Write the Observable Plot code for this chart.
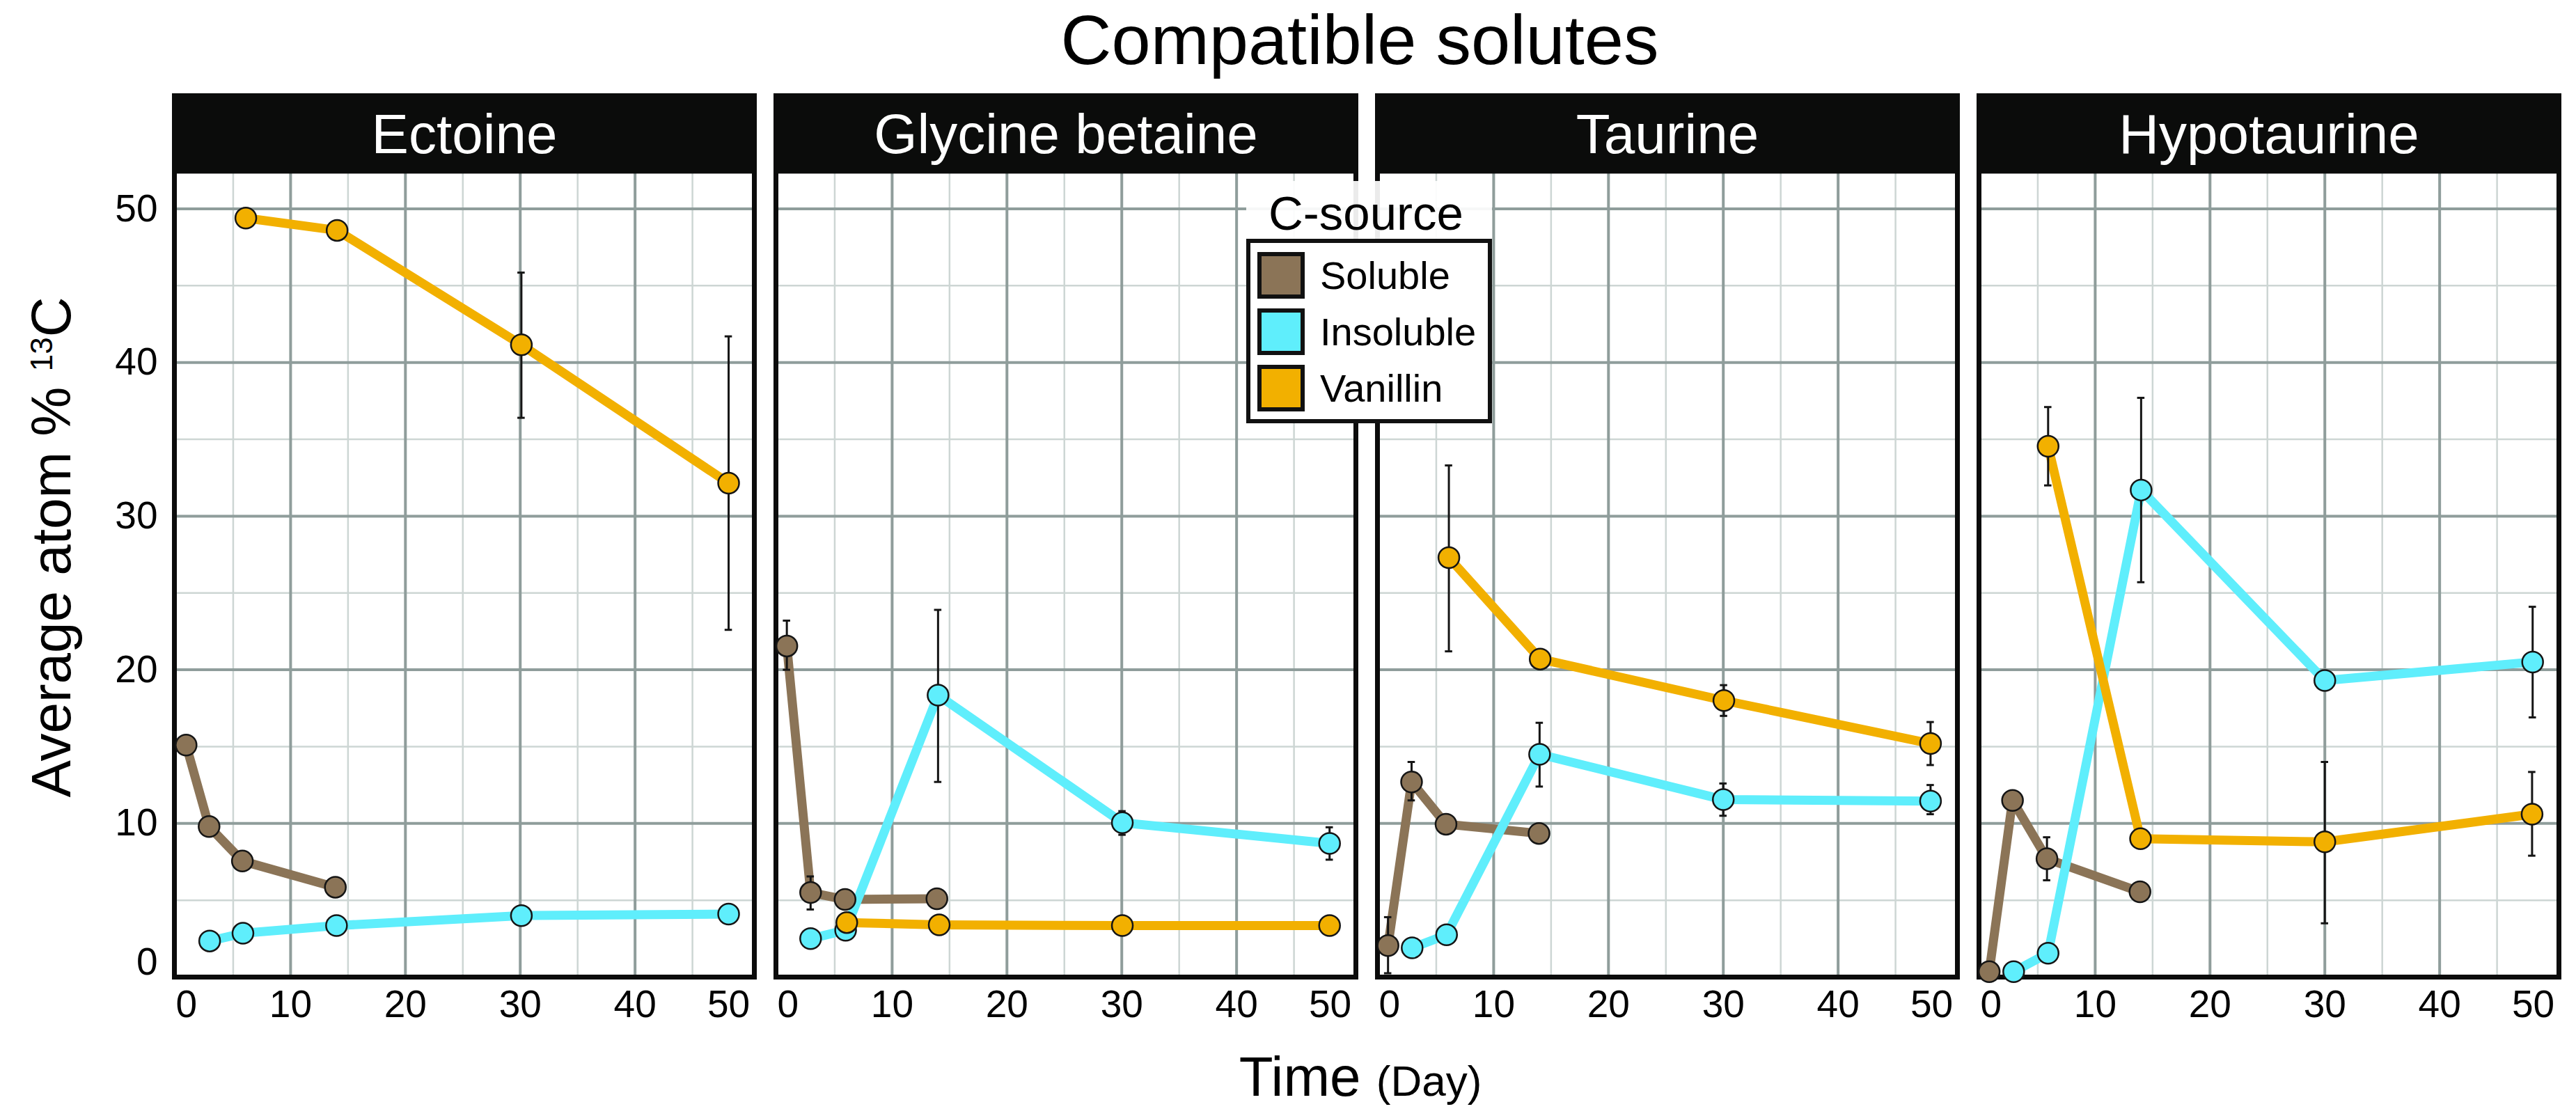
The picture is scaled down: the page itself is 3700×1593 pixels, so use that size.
<!DOCTYPE html>
<html>
<head>
<meta charset="utf-8">
<script src="https://cdn.jsdelivr.net/npm/d3@7"></script>
<script src="https://cdn.jsdelivr.net/npm/@observablehq/plot@0.6"></script>
<style>
  html, body { margin: 0; padding: 0; background: #ffffff; }
  #wrap { position: relative; width: 3700px; height: 1593px; overflow: hidden;
          font-family: "Liberation Sans", Arial, Helvetica, sans-serif; color: #000; }
  #chart { position: absolute; left: 0; top: 0; }
  .abs { position: absolute; white-space: nowrap; line-height: 1; }
  .key { position: absolute; width: 68px; height: 67px; box-sizing: border-box; border: 6px solid #111; }
</style>
</head>
<body>
<div id="wrap">
  <div id="chart"></div>
  <div id="title" class="abs" style="font-size:101px; left:1953px; top:7px; transform:translateX(-50%);">Compatible solutes</div>
  <div id="xtitle" class="abs" style="font-size:80px; left:1954px; top:1507px; transform:translateX(-50%);">Time <span style="font-size:62px">(Day)</span></div>
  <div id="ytitle" class="abs" style="font-size:80px; left:74px; top:786px; transform:translate(-50%,-50%) rotate(-90deg);">Average atom % <span style="font-size:44px; position:relative; top:-26px">13</span>C</div>
  <div id="legend"></div>
</div>
<script>
// ---------- data ----------
const solutes = ["Ectoine", "Glycine betaine", "Taurine", "Hypotaurine"];
const sources = ["Soluble", "Insoluble", "Vanillin"];
const sourceColors = ["#8b7457", "#5feefc", "#f2b000"];
const legendTitle = "C-source";

const xTickLabels = [0, 10, 20, 30, 40, 50];
const yTickLabels = [0, 10, 20, 30, 40, 50];
const xGridMajor = [10, 20, 30, 40];
const xGridMinor = [5, 15, 25, 35, 45];
const yGridMajor = [10, 20, 30, 40, 50];
const yGridMinor = [5, 15, 25, 35, 45];

// each point: [day, mean atom % 13C, error low, error high]
const ectoineSoluble   = [[0.9, 15.1], [2.9, 9.8], [5.8, 7.55], [13.9, 5.85]];
const ectoineInsoluble = [[2.95, 2.35], [5.85, 2.85], [14.0, 3.35], [30.1, 4.0], [48.15, 4.1]];
const ectoineVanillin  = [[6.1, 49.4], [14.05, 48.6], [30.1, 41.15, 36.4, 45.85], [48.15, 32.15, 22.6, 41.7]];

const glycineSoluble   = [[0.83, 21.55, 20.0, 23.2], [2.9, 5.5, 4.4, 6.55], [5.9, 5.05], [13.9, 5.1]];
const glycineInsoluble = [[2.9, 2.5], [5.95, 3.05], [14.0, 18.35, 12.7, 23.9], [30.05, 10.05, 9.26, 10.8], [48.1, 8.7, 7.64, 9.75]];
const glycineVanillin  = [[6.05, 3.55], [14.1, 3.4], [30.05, 3.35], [48.1, 3.35]];

const taurineSoluble   = [[0.8, 2.05, 0.25, 3.9], [2.85, 12.7, 11.5, 14.0], [5.85, 9.95], [13.95, 9.35]];
const taurineInsoluble = [[2.9, 1.9], [5.9, 2.75], [14.0, 14.5, 12.4, 16.55], [30.0, 11.55, 10.5, 12.6], [48.05, 11.45, 10.6, 12.5]];
const taurineVanillin  = [[6.1, 27.3, 21.2, 33.3], [14.05, 20.7], [30.05, 18.0, 17.0, 19.0], [48.05, 15.2, 13.8, 16.6]];

const hypotaurineSoluble   = [[0.77, 0.35], [2.8, 11.5], [5.8, 7.7, 6.3, 9.1], [13.9, 5.55]];
const hypotaurineInsoluble = [[2.9, 0.35], [5.9, 1.55], [14.0, 31.7, 25.7, 37.7], [30.0, 19.3], [48.1, 20.5, 16.9, 24.1]];
const hypotaurineVanillin  = [[5.9, 34.55, 32.0, 37.1], [13.95, 9.0], [30.0, 8.8, 3.5, 14.0], [48.05, 10.6, 7.9, 13.35]];

const seriesTable = [
  ["Ectoine", "Soluble", ectoineSoluble], ["Ectoine", "Insoluble", ectoineInsoluble], ["Ectoine", "Vanillin", ectoineVanillin],
  ["Glycine betaine", "Soluble", glycineSoluble], ["Glycine betaine", "Insoluble", glycineInsoluble], ["Glycine betaine", "Vanillin", glycineVanillin],
  ["Taurine", "Soluble", taurineSoluble], ["Taurine", "Insoluble", taurineInsoluble], ["Taurine", "Vanillin", taurineVanillin],
  ["Hypotaurine", "Soluble", hypotaurineSoluble], ["Hypotaurine", "Insoluble", hypotaurineInsoluble], ["Hypotaurine", "Vanillin", hypotaurineVanillin]
];

const rows = [];
for (const [solute, source, pts] of seriesTable) {
  for (const [day, value, lo, hi] of pts) rows.push({solute, source, day, value, lo, hi});
}
const errs = rows.filter(d => d.lo != null);

// ---------- style ----------
const CAP = 0.32;           // half width of error bar caps, in days
const tickFont = 55;

const plot = Plot.plot({
  width: 3700,
  height: 1593,
  marginLeft: 248.8,
  marginRight: 23.1,
  marginTop: 245.2,
  marginBottom: 190,
  style: {fontFamily: "'Liberation Sans', Arial, Helvetica, sans-serif", background: "transparent", overflow: "visible", color: "#000"},
  fx: {domain: solutes, axis: null, paddingInner: 0.0355, paddingOuter: 0},
  x: {domain: [-0.12, 50.39]},
  y: {domain: [0, 52.46]},
  color: {domain: sources, range: sourceColors},
  marks: [
    Plot.gridX(xGridMinor, {stroke: "#cdd6d4", strokeOpacity: 1, strokeWidth: 2.5}),
    Plot.gridY(yGridMinor, {stroke: "#cdd6d4", strokeOpacity: 1, strokeWidth: 2.5}),
    Plot.gridX(xGridMajor, {stroke: "#8f9d9b", strokeOpacity: 1, strokeWidth: 4}),
    Plot.gridY(yGridMajor, {stroke: "#8f9d9b", strokeOpacity: 1, strokeWidth: 4}),
    Plot.frame({stroke: "#0b0b0b", strokeWidth: 7}),
    Plot.frame({fill: "#0b0c0b", stroke: "none", insetTop: -111.7, insetBottom: 1154.3, insetLeft: -3.5, insetRight: -3.5}),
    Plot.text(solutes, {fx: d => d, text: d => d, frameAnchor: "top", lineAnchor: "middle", dy: -51, fill: "white", fontSize: 80}),
    Plot.line(rows, {fx: "solute", x: "day", y: "value", z: "source", stroke: "source", strokeWidth: 13, strokeLinejoin: "round", strokeLinecap: "butt"}),
    Plot.ruleX(errs, {fx: "solute", x: "day", y1: "lo", y2: "hi", stroke: "#151515", strokeWidth: 3}),
    Plot.ruleY(errs, {fx: "solute", y: "lo", x1: d => d.day - CAP, x2: d => d.day + CAP, stroke: "#151515", strokeWidth: 3}),
    Plot.ruleY(errs, {fx: "solute", y: "hi", x1: d => d.day - CAP, x2: d => d.day + CAP, stroke: "#151515", strokeWidth: 3}),
    Plot.dot(rows, {fx: "solute", x: "day", y: "value", fill: "source", stroke: "#151515", strokeWidth: 2.5, r: 15}),
    Plot.axisX(xTickLabels.filter(d => d > 0 && d < 50), {anchor: "bottom", tickSize: 0, tickPadding: 18, fontSize: tickFont, label: null}),
    Plot.axisX(xTickLabels.filter(d => d === 0), {anchor: "bottom", tickSize: 0, tickPadding: 18, fontSize: tickFont, label: null, textAnchor: "start"}),
    Plot.axisX(xTickLabels.filter(d => d === 50), {anchor: "bottom", tickSize: 0, tickPadding: 18, fontSize: tickFont, label: null, textAnchor: "end"}),
    Plot.axisY(yTickLabels.filter(d => d > 0), {anchor: "left", tickSize: 0, tickPadding: 24, fontSize: tickFont, label: null}),
    Plot.axisY(yTickLabels.filter(d => d === 0), {anchor: "left", tickSize: 0, tickPadding: 24, fontSize: tickFont, label: null, lineAnchor: "bottom", dy: -4})
  ]
});
document.getElementById("chart").appendChild(plot);

// ---------- legend (HTML overlay) ----------
const legend = document.getElementById("legend");
const bg = document.createElement("div");
bg.style.cssText = "position:absolute;left:1790px;top:260px;width:353px;height:90px;background:rgba(255,255,255,0.92);";
legend.appendChild(bg);
const lt = document.createElement("div");
lt.className = "abs";
lt.style.cssText = "font-size:69px;left:1822px;top:272px;";
lt.textContent = legendTitle;
legend.appendChild(lt);
const box = document.createElement("div");
box.style.cssText = "position:absolute;left:1790px;top:343px;width:353px;height:265px;box-sizing:border-box;border:6px solid #111;background:#fff;";
legend.appendChild(box);
sources.forEach((s, i) => {
  const top = 362 + i * 81;
  const k = document.createElement("div");
  k.className = "key";
  k.style.left = "1806px";
  k.style.top = top + "px";
  k.style.background = sourceColors[i];
  legend.appendChild(k);
  const t = document.createElement("div");
  t.className = "abs";
  t.style.cssText = `font-size:56px;left:1896px;top:${top + 6}px;`;
  t.textContent = s;
  legend.appendChild(t);
});
</script>
</body>
</html>
